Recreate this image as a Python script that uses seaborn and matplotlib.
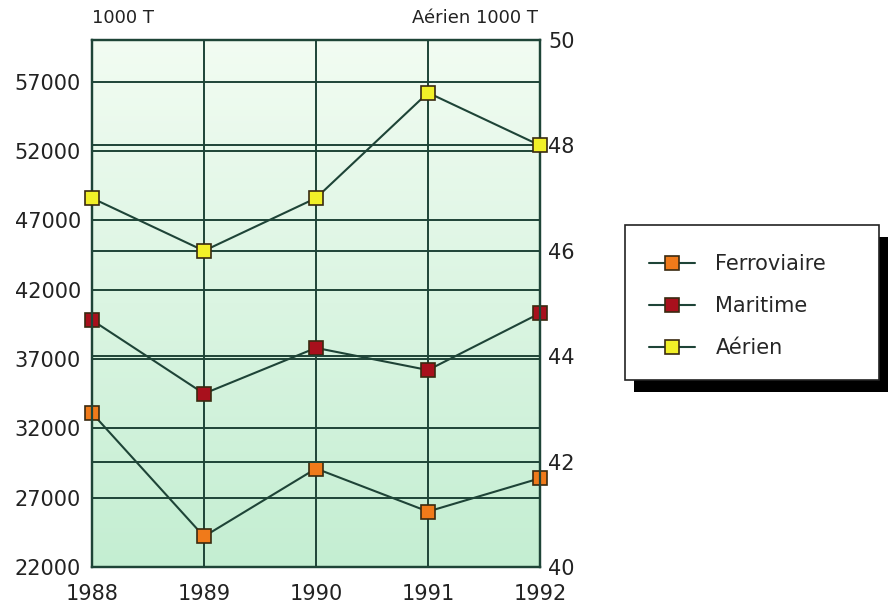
import numpy as np
import seaborn as sns
from matplotlib import pyplot as plt
from matplotlib.patches import Rectangle

# data (1000 T)
years = [1988, 1989, 1990, 1991, 1992]
ferroviaire = [33100, 24200, 29100, 26000, 28400]
maritime = [39800, 34500, 37800, 36200, 40300]
aerien = [47, 46, 47, 49, 48]

left_ticks = [22000, 27000, 32000, 37000, 42000, 47000, 52000, 57000]
right_ticks = [40, 42, 44, 46, 48, 50]

grid_col = '#1e4437'
sns.set_theme(style='white')
plt.rcParams['font.family'] = ['DejaVu Sans']

fig = plt.figure(figsize=(8.88, 6.03), dpi=100)
ax = fig.add_axes([92 / 888, 1 - 567 / 603, 448 / 888, 527 / 603])
ax2 = ax.twinx()

# green gradient background
grad = np.linspace(0, 1, 256).reshape(-1, 1)
top = np.array([242, 252, 242]) / 255
bottom = np.array([196, 238, 210]) / 255
img = top * (1 - grad[..., None]) + bottom * grad[..., None]
ax.imshow(img.reshape(256, 1, 3), extent=[0, 1, 0, 1], transform=ax.transAxes,
          aspect='auto', zorder=0)

mk = dict(marker='s', markersize=10, markeredgecolor='#3a2a10', markeredgewidth=1.2,
          linewidth=1.5, color=grid_col, clip_on=False)
sns.lineplot(x=years, y=ferroviaire, ax=ax, markerfacecolor='#f07a1a', label='Ferroviaire', zorder=3, **mk)
sns.lineplot(x=years, y=maritime, ax=ax, markerfacecolor='#a8101c', label='Maritime', zorder=3, **mk)
sns.lineplot(x=years, y=aerien, ax=ax2, markerfacecolor='#f2f028', label='Aérien', zorder=3, **mk)

ax.set_xlim(1988, 1992)
ax.set_ylim(22000, 60000)
ax2.set_ylim(40, 50)
ax.set_xticks(years)
ax.set_xticklabels([str(y) for y in years])
ax.set_yticks(left_ticks)
ax.set_yticklabels([str(v) for v in left_ticks])
ax2.set_yticks(right_ticks)
ax2.set_yticklabels([str(v) for v in right_ticks])

for a in (ax, ax2):
    a.grid(True, axis='y', color=grid_col, linewidth=1.4, zorder=1)
    a.set_axisbelow(True)
    a.tick_params(length=0, labelsize=15, colors='#222222')
    for s in a.spines.values():
        s.set_color(grid_col)
        s.set_linewidth(1.6)
    a.set_xlabel('')
    a.set_ylabel('')
ax.grid(True, axis='x', color=grid_col, linewidth=1.4)
ax.tick_params(axis='y', pad=8)
ax.tick_params(axis='x', pad=12)
ax2.tick_params(axis='y', pad=6)

h1, l1 = ax.get_legend_handles_labels()
h2, l2 = ax2.get_legend_handles_labels()
for a in (ax, ax2):
    if a.get_legend():
        a.get_legend().remove()

fig.text(92 / 888, 1 - 18 / 603, '1000 T', fontsize=13, va='center', ha='left', color='#222222')
fig.text(538 / 888, 1 - 18 / 603, 'Aérien 1000 T', fontsize=13, va='center', ha='right', color='#222222')

# legend box with hard shadow
fig.patches.append(Rectangle((634 / 888, 1 - 392 / 603), 254 / 888, 155 / 603,
                             transform=fig.transFigure, facecolor='black', edgecolor='none', zorder=1))
fig.patches.append(Rectangle((625 / 888, 1 - 380 / 603), 254 / 888, 155 / 603,
                             transform=fig.transFigure, facecolor='white', edgecolor='#222222',
                             linewidth=1.2, zorder=2))
leg = fig.legend(h1 + h2, l1 + l2, loc='center left', bbox_to_anchor=(630 / 888, 1 - 306 / 603),
                 frameon=False, fontsize=15, handlelength=2.2, labelspacing=1.05, handletextpad=1.0)
leg.set_zorder(5)

fig.savefig('out.png', dpi=100)
